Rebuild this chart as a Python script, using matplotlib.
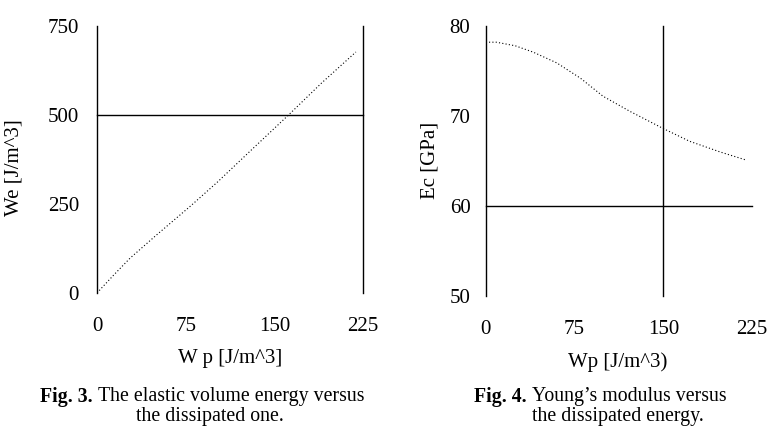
import matplotlib
matplotlib.use("Agg")
import matplotlib.pyplot as plt

# Fig. 3 data
wp3 = [0, 5, 14, 28, 50, 79, 102, 130, 162, 190, 219]
we3 = [0, 18, 50, 98, 162, 244, 312, 400, 500, 590, 677]
# Fig. 4 data
wp4 = [0, 9, 25, 40, 60, 80, 99, 122, 150, 172, 198, 220]
ec4 = [78.2, 78.2, 77.8, 77.1, 75.9, 74.2, 72.2, 70.5, 68.6, 67.2, 66.0, 65.1]

x3_ticks = [0, 75, 150, 225]
y3_ticks = [0, 250, 500, 750]
x4_ticks = [0, 75, 150, 225]
y4_ticks = [50, 60, 70, 80]

plt.rcParams['font.family'] = ['Liberation Serif', 'DejaVu Serif']
W, H = 770, 428
fig = plt.figure(figsize=(W / 100, H / 100), dpi=100)

def px_axes(x0, x1, y0, y1):
    return fig.add_axes([x0 / W, 1 - y1 / H, (x1 - x0) / W, (y1 - y0) / H])

fs = 15
cfs = 14.3
ax1 = px_axes(97, 363, 26, 293)
ax1.set_xlim(0, 225)
ax1.set_ylim(0, 750)
ax1.plot(wp3, we3, color='black', lw=0.8, ls=(0, (1, 2)))
ax1.axvline(0, color='black', lw=1.0, clip_on=False)
ax1.axvline(225, color='black', lw=1.0, clip_on=False)
ax1.axhline(500, color='black', lw=1.0, clip_on=False)
ax1.set_xticks(x3_ticks)
ax1.set_yticks(y3_ticks)
ax1.tick_params(length=0, labelsize=fs)
ax1.tick_params(axis='y', pad=13)
ax1.tick_params(axis='x', pad=17)
ax1.set_xlabel('W p [J/m^3]', fontsize=fs)
ax1.xaxis.set_label_coords((230 - 97) / 266, -(358 - 293) / 267)
ax1.xaxis.label.set_va('center')
ax1.set_ylabel('We [J/m^3]', fontsize=fs)
ax1.yaxis.set_label_coords((14 - 97) / 266, (293 - 168) / 267)
ax1.yaxis.label.set_va('center')
for s in ax1.spines.values():
    s.set_visible(False)

ax2 = px_axes(485.7, 752.2, 26, 296)
ax2.set_xlim(0, 225)
ax2.set_ylim(50, 80)
ax2.plot(wp4, ec4, color='black', lw=0.8, ls=(0, (1, 2)))
ax2.axvline(0, color='black', lw=1.0, clip_on=False)
ax2.axvline(150, color='black', lw=1.0, clip_on=False)
ax2.axhline(60, color='black', lw=1.0, clip_on=False)
ax2.set_xticks(x4_ticks)
ax2.set_yticks(y4_ticks)
ax2.tick_params(length=0, labelsize=fs)
ax2.tick_params(axis='y', pad=11)
ax2.tick_params(axis='x', pad=17)
ax2.set_xlabel('Wp [J/m^3)', fontsize=fs)
ax2.xaxis.set_label_coords((618 - 485.7) / 266.5, -(362 - 296) / 270)
ax2.xaxis.label.set_va('center')
ax2.set_ylabel('Ec [GPa]', fontsize=fs)
ax2.yaxis.set_label_coords((430 - 485.7) / 266.5, (296 - 160) / 270)
ax2.yaxis.label.set_va('center')
for s in ax2.spines.values():
    s.set_visible(False)

fig.canvas.draw()
r = fig.canvas.get_renderer()

def caption(xc, yc, bold, rest):
    t = fig.text(0, 1 - yc / H, bold + ' ', fontsize=cfs, fontweight='bold',
                 ha='right', va='center', color='black')
    t2 = fig.text(0, 1 - yc / H, rest, fontsize=cfs, ha='left', va='center')
    bw = t.get_window_extent(r).width
    rw = t2.get_window_extent(r).width
    left = xc - (bw + rw) / 2
    t.set_position(((left + bw) / W, 1 - yc / H))
    t2.set_position(((left + bw) / W, 1 - yc / H))

caption(202, 397, 'Fig. 3.', 'The elastic volume energy versus')
fig.text(210 / W, 1 - 417 / H, 'the dissipated one.', fontsize=cfs, ha='center', va='center')
caption(600, 397, 'Fig. 4.', 'Young\u2019s modulus versus')
fig.text(618 / W, 1 - 417 / H, 'the dissipated energy.', fontsize=cfs, ha='center', va='center')

fig.savefig('out.png', dpi=100)
